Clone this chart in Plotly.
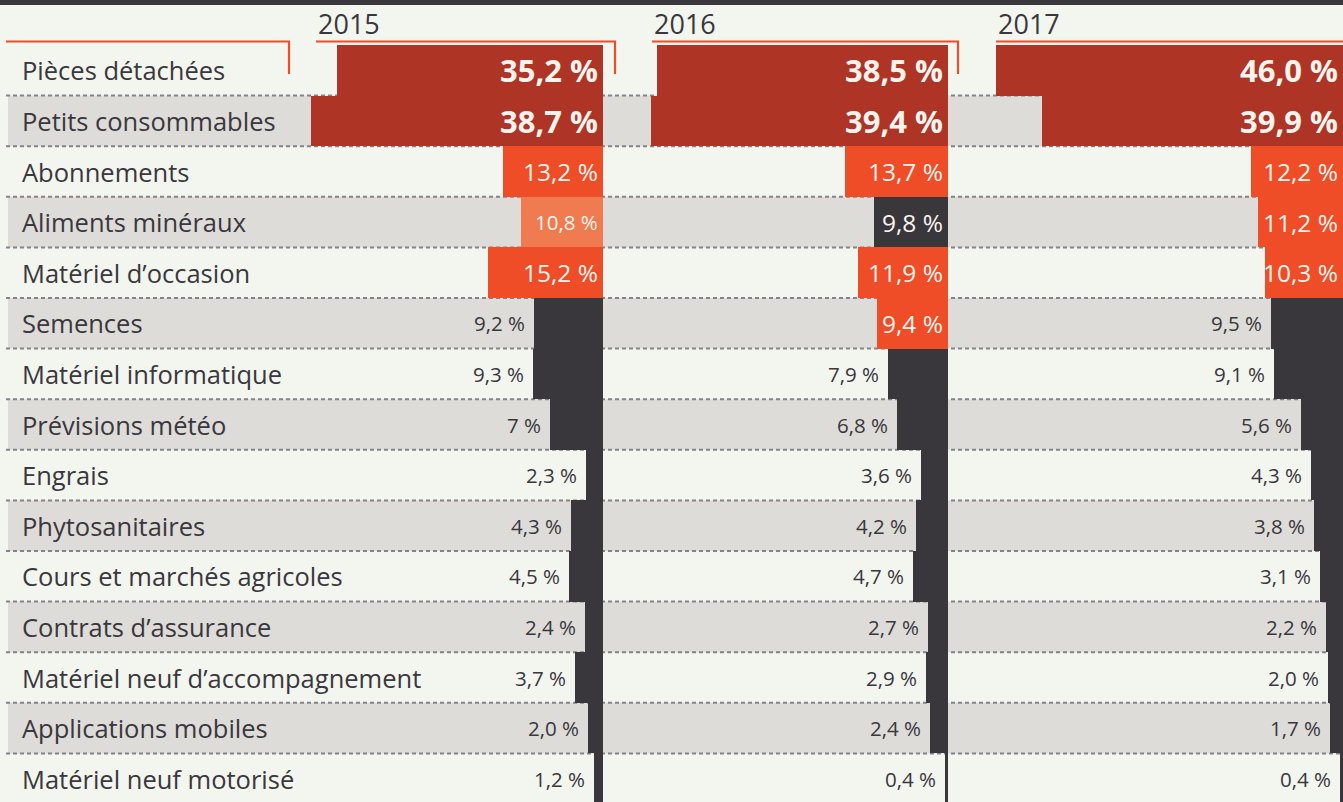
import plotly.graph_objects as go

# ---------------------------------------------------------------------------
# Data
# ---------------------------------------------------------------------------
CATEGORIES = [
    "Pièces détachées",
    "Petits consommables",
    "Abonnements",
    "Aliments minéraux",
    "Matériel d’occasion",
    "Semences",
    "Matériel informatique",
    "Prévisions météo",
    "Engrais",
    "Phytosanitaires",
    "Cours et marchés agricoles",
    "Contrats d’assurance",
    "Matériel neuf d’accompagnement",
    "Applications mobiles",
    "Matériel neuf motorisé",
]

YEARS = ["2015", "2016", "2017"]

# Shares (%) written as printed, French decimal comma
PARTS_2015 = ["35,2", "38,7", "13,2", "10,8", "15,2", "9,2", "9,3", "7",
              "2,3", "4,3", "4,5", "2,4", "3,7", "2,0", "1,2"]
PARTS_2016 = ["38,5", "39,4", "13,7", "9,8", "11,9", "9,4", "7,9", "6,8",
              "3,6", "4,2", "4,7", "2,7", "2,9", "2,4", "0,4"]
PARTS_2017 = ["46,0", "39,9", "12,2", "11,2", "10,3", "9,5", "9,1", "5,6",
              "4,3", "3,8", "3,1", "2,2", "2,0", "1,7", "0,4"]

# ---------------------------------------------------------------------------
# Styling
# ---------------------------------------------------------------------------
TONES_2015 = ["top", "top", "hot", "soft", "hot"] + ["dark"] * 10
TONES_2016 = ["top", "top", "hot", "darkin", "hot", "hot"] + ["dark"] * 9
TONES_2017 = ["top", "top", "hot", "hot", "hot"] + ["dark"] * 10

INK = "#3a373d"
BG = "#f3f5ef"
BAND = "#dddcd8"
RULE = "#ee4d27"
DOTS = "#85828b"
FONT = "Open Sans"

TONE_STYLE = {
    "top":    dict(fill="#ae3426", color="#fbf4ee", size=31, bold=True, inside=True),
    "hot":    dict(fill="#ee4d27", color="#fbf4ee", size=24.5, bold=False, inside=True),
    "soft":   dict(fill="#f07b50", color="#fbf4ee", size=20.5, bold=False, inside=True),
    "darkin": dict(fill="#39363c", color="#fbf4ee", size=24.5, bold=False, inside=True),
    "dark":   dict(fill="#39363c", color=INK, size=20.5, bold=False, inside=False),
}

W, H = 1343, 802
PX_PER_PCT = 7.55          # horizontal scale shared by the three panels
ROW_TOP, ROW_H = 45, 50.6  # top of first row and row pitch, in pixels

# panel: (left px, right px, header px)
PANELS = [(0, 603, 316), (604, 948, 652), (950, 1343, 996)]


def px(x):
    return x / W


def py(y):
    return 1 - y / H


def to_num(s):
    return float(s.replace(",", "."))


series = [PARTS_2015, PARTS_2016, PARTS_2017]
tones = [TONES_2015, TONES_2016, TONES_2017]
axis_ids = ["x", "x2", "x3"]

fig = go.Figure()

for k, (parts, tone, ax) in enumerate(zip(series, tones, axis_ids)):
    fig.add_trace(go.Bar(
        orientation="h",
        y=CATEGORIES,
        x=[to_num(s) for s in parts],
        marker=dict(color=[TONE_STYLE[t]["fill"] for t in tone], line=dict(width=0)),
        xaxis=ax,
        yaxis="y",
        hoverinfo="skip",
        showlegend=False,
    ))

annotations = []
shapes = []

# value labels
for parts, tone, ax in zip(series, tones, axis_ids):
    for cat, s, t in zip(CATEGORIES, parts, tone):
        st = TONE_STYLE[t]
        label = f"{s} %"
        if st["bold"]:
            label = f"<b>{label}</b>"
        annotations.append(dict(
            xref=ax, yref="y",
            x=0 if st["inside"] else to_num(s),
            y=cat,
            xanchor="right", yanchor="middle",
            xshift=-3 if st["inside"] else -7,
            text=label, showarrow=False,
            font=dict(family=FONT, size=st["size"], color=st["color"]),
        ))

# category labels
for cat in CATEGORIES:
    annotations.append(dict(
        xref="paper", yref="y", x=px(20), y=cat,
        xanchor="left", yanchor="middle", text=cat, showarrow=False,
        font=dict(family=FONT, size=25.5, color=INK),
    ))

# year headers
for (left, right, hx), year in zip(PANELS, YEARS):
    annotations.append(dict(
        xref="paper", yref="paper", x=px(hx), y=py(23),
        xanchor="left", yanchor="middle", text=year, showarrow=False,
        font=dict(family=FONT, size=27, color=INK),
    ))

# alternating grey bands
for i in range(len(CATEGORIES)):
    if i % 2 == 1:
        shapes.append(dict(
            type="rect", xref="paper", yref="y", layer="below",
            x0=px(8), x1=1, y0=i - 0.5, y1=i + 0.5,
            fillcolor=BAND, line=dict(width=0),
        ))

# dotted separators between rows
for i in range(len(CATEGORIES) - 1):
    shapes.append(dict(
        type="line", xref="paper", yref="y", layer="below",
        x0=px(6), x1=1, y0=i + 0.5, y1=i + 0.5,
        line=dict(color=DOTS, width=2, dash="4px,3px"),
    ))

# dark strip along the top
shapes.append(dict(
    type="rect", xref="paper", yref="paper", x0=0, x1=1, y0=py(5), y1=1,
    fillcolor=INK, line=dict(width=0),
))

# orange header brackets
bracket_y, bracket_drop = 41.5, 74


def bracket(x0, x1, drop=True):
    path = f"M{px(x0)},{py(bracket_y)} L{px(x1)},{py(bracket_y)}"
    if drop:
        path += f" L{px(x1)},{py(bracket_drop)}"
    return dict(type="path", xref="paper", yref="paper", path=path,
                line=dict(color=RULE, width=2.2))


shapes.append(bracket(6, 289))
shapes.append(bracket(PANELS[0][2], PANELS[0][1] + 12))
shapes.append(bracket(PANELS[1][2], PANELS[1][1] + 10))
shapes.append(bracket(PANELS[2][2], W, drop=False))

layout_axes = {}
for n, (left, right, _) in enumerate(PANELS):
    name = "xaxis" if n == 0 else f"xaxis{n + 1}"
    layout_axes[name] = dict(
        domain=[px(left), px(right)],
        range=[(right - left) / PX_PER_PCT, 0],
        visible=False, showgrid=False, zeroline=False, fixedrange=True,
        anchor="y",
    )

y_lo = -0.5 - ROW_TOP / ROW_H
y_hi = -0.5 + (H - ROW_TOP) / ROW_H

fig.update_layout(
    width=W, height=H,
    margin=dict(l=0, r=0, t=0, b=0),
    paper_bgcolor=BG, plot_bgcolor=BG,
    bargap=0,
    yaxis=dict(domain=[0, 1], range=[y_hi, y_lo], visible=False,
               showgrid=False, zeroline=False, fixedrange=True),
    annotations=annotations,
    shapes=shapes,
    font=dict(family=FONT, color=INK),
    **layout_axes,
)

fig.write_html("out.html", config=dict(displayModeBar=False))
